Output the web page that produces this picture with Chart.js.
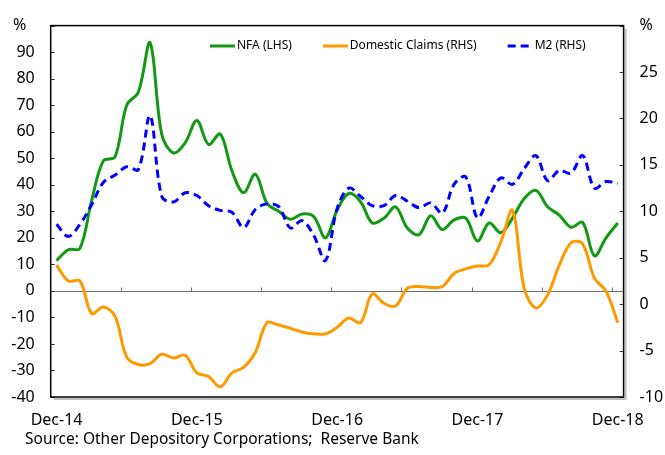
<!DOCTYPE html>
<html>
<head>
<meta charset="utf-8">
<script src="https://cdn.jsdelivr.net/npm/chart.js@4/dist/chart.umd.min.js"></script>
<style>
  body { margin: 0; background: #fff; }
  canvas { display: block; }
</style>
</head>
<body>
<canvas id="chart" width="665" height="455"></canvas>
<script>
const labels = [
    'Dec-14',
    'Jan-15', 'Feb-15', 'Mar-15', 'Apr-15', 'May-15', 'Jun-15', 'Jul-15', 'Aug-15', 'Sep-15', 'Oct-15', 'Nov-15', 'Dec-15',
    'Jan-16', 'Feb-16', 'Mar-16', 'Apr-16', 'May-16', 'Jun-16', 'Jul-16', 'Aug-16', 'Sep-16', 'Oct-16', 'Nov-16', 'Dec-16',
    'Jan-17', 'Feb-17', 'Mar-17', 'Apr-17', 'May-17', 'Jun-17', 'Jul-17', 'Aug-17', 'Sep-17', 'Oct-17', 'Nov-17', 'Dec-17',
    'Jan-18', 'Feb-18', 'Mar-18', 'Apr-18', 'May-18', 'Jun-18', 'Jul-18', 'Aug-18', 'Sep-18', 'Oct-18', 'Nov-18', 'Dec-18'
];

// NFA, left axis (%)
const nfa = [11.4, 15.5, 16, 34, 49, 50.5, 70, 75, 93.5, 59, 52, 55.8, 64.2,
    55.2, 59.1, 45.3, 37, 44, 33, 30, 27, 29, 28, 20, 30.5,
    36.7, 33.6, 25.6, 27.4, 31.7, 23.7, 21.2, 28.3, 23.1, 26.8, 27.4, 18.8,
    25.6, 21.9, 27.4, 34.8, 37.9, 31.7, 28.6, 24, 25.8, 13.2, 20, 25.6];

// Domestic claims, right axis (%)
const domesticClaims = [4.2, 2.5, 2.5, -1.0, -0.3, -1.3, -5.7, -6.5, -6.4, -5.4, -5.8, -5.5, -7.4,
    -7.8, -8.9, -7.4, -6.8, -5.2, -2.0, -2.25, -2.6, -3.0, -3.2, -3.2, -2.5,
    -1.5, -2.0, 1.1, 0.1, -0.2, 1.7, 1.9, 1.8, 1.9, 3.3, 3.8, 4.1,
    4.25, 6.7, 10.1, 1.7, -0.4, 1.0, 4.2, 6.6, 6.5, 2.8, 1.4, -2.0];

// M2, right axis (%)
const m2 = [8.6, 7.3, 8.6, 10.7, 13.1, 13.9, 14.8, 14.5, 20.3, 11.6, 11.0, 12.0, 11.7,
    10.6, 10.1, 9.9, 8.25, 10.2, 10.8, 10.5, 8.2, 9.0, 7.4, 4.7, 10.3,
    12.5, 11.6, 10.6, 10.6, 11.7, 11.1, 10.4, 10.9, 9.8, 12.9, 13.7, 9.3,
    11.6, 13.6, 12.9, 14.6, 16.0, 13.3, 14.4, 14.1, 16.0, 12.5, 13.2, 13.0];

const leftTicks = { min: -40, max: 100, step: 10 };
const rightTicks = { min: -10, max: 30, step: 5 };

const source = 'Source: Other Depository Corporations;  Reserve Bank';

const FONT = '"Noto Sans", sans-serif';

// frame, zero line, inside tick marks, legend inside the plot and the source note
const decor = {
    id: 'decor',
    beforeDatasetsDraw(chart) {
        const { ctx, chartArea: a, scales } = chart;
        const y0 = Math.round(scales.y.getPixelForValue(0)) + 0.5;
        ctx.save();
        ctx.strokeStyle = '#6e6e6e';
        ctx.lineWidth = 1;
        ctx.beginPath();
        ctx.moveTo(a.left, y0);
        ctx.lineTo(a.right, y0);
        const x = scales.x;
        const half = (x.getPixelForValue(1) - x.getPixelForValue(0)) / 2;
        for (let i = 6; i < labels.length; i += 6) {
            const px = Math.round(x.getPixelForValue(i) - half) + 0.5;
            ctx.moveTo(px, y0);
            ctx.lineTo(px, y0 - 4);
        }
        ctx.stroke();
        ctx.strokeStyle = '#333';
        ctx.beginPath();
        scales.y.ticks.forEach(t => {
            const py = Math.round(scales.y.getPixelForValue(t.value)) + 0.5;
            ctx.moveTo(a.left, py);
            ctx.lineTo(a.left + 4, py);
        });
        scales.y1.ticks.forEach(t => {
            const py = Math.round(scales.y1.getPixelForValue(t.value)) + 0.5;
            ctx.moveTo(a.right - 4, py);
            ctx.lineTo(a.right, py);
        });
        ctx.stroke();
        ctx.restore();
    },
    afterDatasetsDraw(chart) {
        const { ctx, chartArea: a } = chart;
        ctx.save();
        // shadow
        ctx.strokeStyle = 'rgba(0,0,0,0.25)';
        ctx.lineWidth = 2;
        ctx.beginPath();
        ctx.moveTo(a.right + 2, a.top + 3);
        ctx.lineTo(a.right + 2, a.bottom + 2);
        ctx.lineTo(a.left + 3, a.bottom + 2);
        ctx.stroke();
        // frame
        ctx.strokeStyle = '#000';
        ctx.lineWidth = 1.5;
        ctx.strokeRect(a.left, a.top, a.right - a.left, a.bottom - a.top);

        // legend
        ctx.font = '12px ' + FONT;
        ctx.textBaseline = 'middle';
        ctx.fillStyle = '#000';
        let lx = 210;
        const ly = 46;
        [0, 1, 2].forEach(i => {
            const ds = chart.data.datasets[i];
            ctx.strokeStyle = ds.borderColor;
            ctx.lineWidth = ds.borderWidth;
            ctx.setLineDash(ds.borderDash || []);
            ctx.beginPath();
            ctx.moveTo(lx, ly);
            ctx.lineTo(lx + 25, ly);
            ctx.stroke();
            ctx.setLineDash([]);
            ctx.fillText(ds.label, lx + 27, ly);
            lx += 27 + ctx.measureText(ds.label).width + 31;
        });

        // source note
        ctx.font = '15.5px ' + FONT;
        ctx.fillText(source, 25, 440);
        ctx.restore();
    }
};

const chart = new Chart(document.getElementById('chart'), {
    type: 'line',
    data: {
        labels: labels,
        datasets: [{
            label: 'NFA (LHS)',
            data: nfa,
            yAxisID: 'y',
            borderColor: '#119911',
            backgroundColor: '#119911',
            borderWidth: 3,
            order: 2
        }, {
            label: 'Domestic Claims (RHS)',
            data: domesticClaims,
            yAxisID: 'y1',
            borderColor: '#ff9900',
            backgroundColor: '#ff9900',
            borderWidth: 3,
            order: 1
        }, {
            label: 'M2 (RHS)',
            data: m2,
            yAxisID: 'y1',
            borderColor: '#0000ff',
            backgroundColor: '#0000ff',
            borderWidth: 3,
            borderDash: [8, 5],
            order: 0
        }]
    },
    options: {
        responsive: false,
        animation: false,
        devicePixelRatio: 1,
        layout: { padding: { left: 0, top: 20, right: 0, bottom: 25 } },
        elements: {
            point: { radius: 0, hoverRadius: 0 },
            line: { tension: 0.35, fill: false }
        },
        plugins: {
            legend: { display: false },
            tooltip: { enabled: false }
        },
        scales: {
            x: {
                type: 'category',
                offset: true,
                grid: { display: false },
                border: { display: false },
                ticks: {
                    autoSkip: false,
                    maxRotation: 0,
                    padding: 6,
                    color: '#000',
                    font: { family: FONT, size: 16 },
                    callback: (v, i) => (i % 12 === 0 ? labels[i] : '')
                },
                afterFit: s => { s.height = 33; }
            },
            y: {
                position: 'left',
                min: leftTicks.min,
                max: leftTicks.max,
                grid: { display: false, drawTicks: false },
                border: { display: false },
                ticks: {
                    stepSize: leftTicks.step,
                    padding: 16,
                    color: '#000',
                    font: { family: FONT, size: 16 },
                    callback: v => (v === leftTicks.max ? '%  ' : v)
                },
                afterFit: s => { s.width = 50.7; }
            },
            y1: {
                position: 'right',
                min: rightTicks.min,
                max: rightTicks.max,
                grid: { display: false, drawTicks: false },
                border: { display: false },
                ticks: {
                    stepSize: rightTicks.step,
                    padding: 16,
                    color: '#000',
                    font: { family: FONT, size: 16 },
                    callback: v => (v === rightTicks.max ? '%' : v)
                },
                afterFit: s => { s.width = 41.4; }
            }
        }
    },
    plugins: [decor]
});
</script>
</body>
</html>
